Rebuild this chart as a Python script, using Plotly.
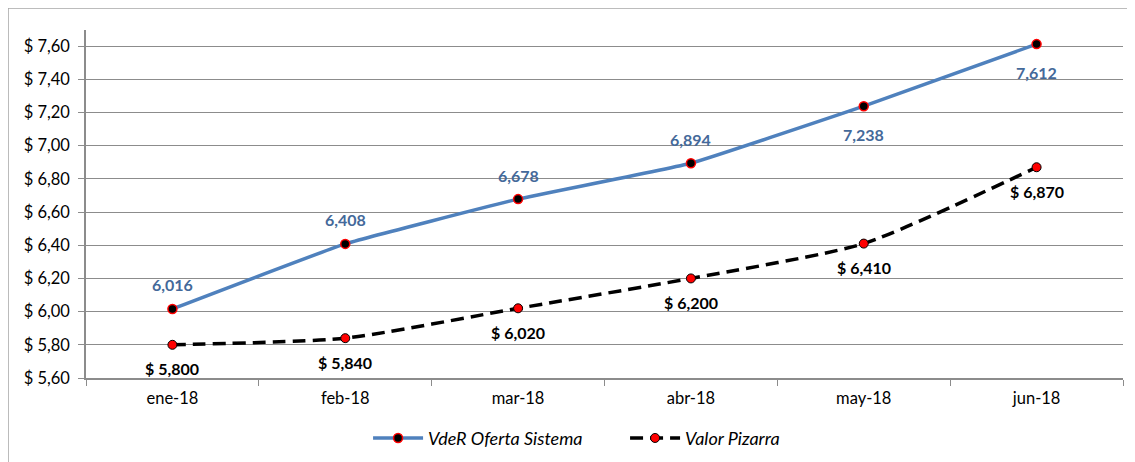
import plotly.graph_objects as go

months = ["ene-18", "feb-18", "mar-18", "abr-18", "may-18", "jun-18"]
vder = [6.016, 6.408, 6.678, 6.894, 7.238, 7.612]
pizarra = [5.800, 5.840, 6.020, 6.200, 6.410, 6.870]
vder_above = [True, True, True, True, False, False]
y_ticks = [5.6, 5.8, 6.0, 6.2, 6.4, 6.6, 6.8, 7.0, 7.2, 7.4, 7.6]

def es(v, d):
    return f"{v:.{d}f}".replace(".", ",")

font = "Lato, Calibri, Carlito, sans-serif"

fig = go.Figure()
fig.add_trace(go.Scatter(
    x=months, y=vder, name="VdeR Oferta Sistema",
    mode="lines+markers",
    line=dict(color="#4F81BD", width=3.5, shape="spline", smoothing=0.3),
    marker=dict(size=9, color="black", line=dict(color="red", width=1.5)),
    cliponaxis=False,
))
fig.add_trace(go.Scatter(
    x=months, y=pizarra, name="Valor Pizarra",
    mode="lines+markers",
    line=dict(color="black", width=3.5, dash="13px,7px", shape="spline", smoothing=0.6),
    marker=dict(size=9, color="red", line=dict(color="black", width=1)),
    cliponaxis=False,
))

annotations = []
for m, v, up in zip(months, vder, vder_above):
    annotations.append(dict(x=m, y=v, xref="x", yref="y", text=es(v, 3), showarrow=False,
                            yshift=24 if up else -28,
                            font=dict(family=font, size=16, color="#44699A", weight="bold")))
for m, v in zip(months, pizarra):
    annotations.append(dict(x=m, y=v, xref="x", yref="y", text="$ " + es(v, 3), showarrow=False,
                            yshift=-24,
                            font=dict(family=font, size=16, color="black", weight="bold")))

fig.update_layout(
    width=1135, height=462,
    margin=dict(l=78, r=20, t=22, b=92, autoexpand=False),
    paper_bgcolor="white", plot_bgcolor="white",
    font=dict(family=font, size=16, color="black"),
    showlegend=True,
    legend=dict(orientation="h", x=0.272, xanchor="left", y=-0.12, yanchor="top",
                font=dict(family=font, size=18, style="italic"),
                itemwidth=50, entrywidth=192, tracegroupgap=0),
    annotations=annotations,
    shapes=[
        dict(type="line", xref="paper", yref="paper", x0=-0.0752, x1=1.03, y0=1.063, y1=1.063,
             line=dict(color="#A6A6A6", width=1.5)),
        dict(type="line", xref="paper", yref="paper", x0=-0.0752, x1=-0.0752, y0=1.063, y1=-0.3,
             line=dict(color="#A6A6A6", width=1.5)),
    ],
)
fig.update_xaxes(
    range=[-0.5, 5.5], automargin=False,
    showline=True, linecolor="#8C8C8C", linewidth=1.5,
    ticks="outside", tickson="boundaries", ticklen=6, tickcolor="#8C8C8C",
    showgrid=False, tickfont=dict(size=16.5), ticklabelstandoff=4,
)
fig.update_yaxes(
    range=[5.6, 7.697], tickvals=y_ticks, ticktext=["$ " + es(v, 2) for v in y_ticks],
    automargin=False,
    showline=True, linecolor="#8C8C8C", linewidth=1.5,
    ticks="outside", ticklen=6, tickcolor="#8C8C8C",
    showgrid=True, gridcolor="#8C8C8C", gridwidth=1,
    tickfont=dict(size=16.5), zeroline=False, ticklabelstandoff=5,
)

fig.write_html("out.html")
